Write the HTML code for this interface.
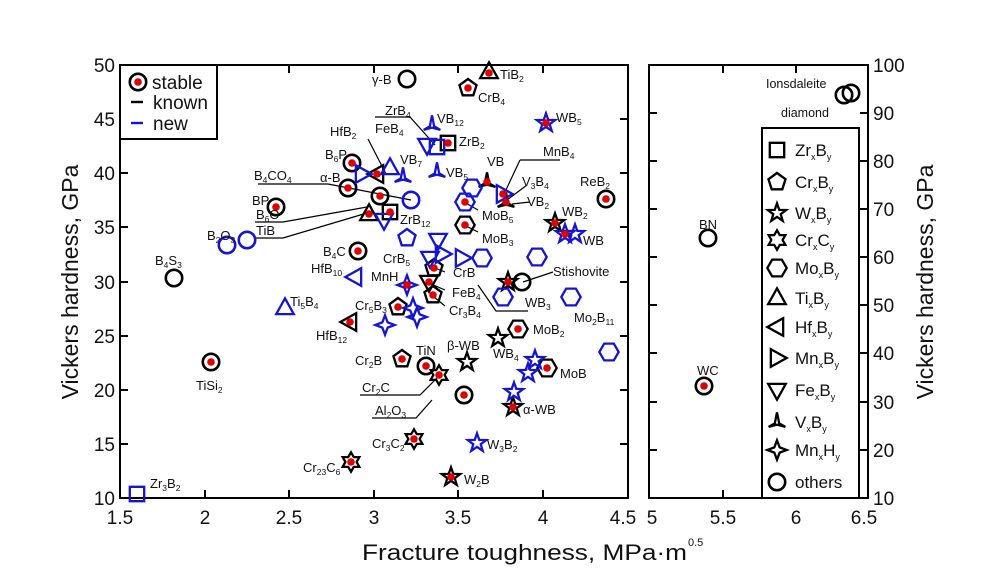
<!DOCTYPE html>
<html><head><meta charset="utf-8"><style>
html,body{margin:0;padding:0;background:#fff}
svg{display:block;font-family:"Liberation Sans",Arial,sans-serif}
.b{stroke:#000;fill:none;stroke-width:2.6}
.u{stroke:#1515d0;fill:none;stroke-width:2.6}
.t{font-size:13px;fill:#111}
.s{font-size:8.5px}
</style></head><body>
<svg width="998" height="587" viewBox="0 0 998 587" xmlns="http://www.w3.org/2000/svg">
<defs>
<path id="sq" transform="scale(.9)" d="M-8-8h16v16h-16z"/>
<path id="pe" transform="scale(.9)" d="M0-10L9.5-3.1L5.9 8.1L-5.9 8.1L-9.5-3.1Z"/>
<path id="st" transform="scale(.88)" d="M0-11L2.6-3.6L10.5-3.4L4.2 1.4L6.5 8.9L0 4.4L-6.5 8.9L-4.2 1.4L-10.5-3.4L-2.6-3.6Z"/>
<path id="hg" transform="scale(.88)" d="M0-11L3.2-5.5L9.5-5.5L6.4 0L9.5 5.5L3.2 5.5L0 11L-3.2 5.5L-9.5 5.5L-6.4 0L-9.5-5.5L-3.2-5.5Z"/>
<path id="hx" transform="scale(.88)" d="M11 0L5.5 9.5L-5.5 9.5L-11 0L-5.5-9.5L5.5-9.5Z"/>
<path id="tu" transform="scale(.88)" d="M0-11L10 7L-10 7Z"/>
<path id="tl" transform="scale(.88)" d="M-11 0L7-10L7 10Z"/>
<path id="tr" transform="scale(.88)" d="M11 0L-7-10L-7 10Z"/>
<path id="td" transform="scale(.88)" d="M0 11L10-7L-10-7Z"/>
<path id="vv" transform="scale(.88)" d="M0-11L2.5 1.5L9.5 5.5L0 3L-9.5 5.5L-2.5 1.5Z"/>
<path id="f4" transform="scale(.88)" d="M0-11L3-3L11 0L3 3L0 11L-3 3L-11 0L-3-3Z"/>
<circle id="ci" r="8.2"/>
<circle id="d" r="3.8" fill="#e00000" stroke="none"/>
</defs>

<rect x="120" y="65" width="508" height="433" fill="none" stroke="#000" stroke-width="2"/>
<g stroke="#000" stroke-width="2">
<path d="M205 498v-8M289 498v-8M374 498v-8M458 498v-8M543 498v-8M205 65v8M289 65v8M374 65v8M458 65v8M543 65v8"/>
<path d="M120 119h8M120 173h8M120 227h8M120 282h8M120 336h8M120 390h8M120 444h8M628 119h-8M628 173h-8M628 227h-8M628 282h-8M628 336h-8M628 390h-8M628 444h-8"/>
</g>
<rect x="649" y="65" width="219" height="433" fill="none" stroke="#000" stroke-width="2"/>
<g stroke="#000" stroke-width="2">
<path d="M723 498v-8M796 498v-8M723 65v8M796 65v8"/>
<path d="M868 113h-8M868 161h-8M868 209h-8M868 257h-8M868 305h-8M868 353h-8M868 402h-8M868 450h-8M649 113h8M649 161h8M649 209h8M649 257h8M649 305h8M649 353h8M649 402h8M649 450h8"/>
</g>

<g font-size="19" fill="#111" text-anchor="middle">
<text x="120" y="524">1.5</text><text x="205" y="524">2</text><text x="289" y="524">2.5</text><text x="374" y="524">3</text><text x="458" y="524">3.5</text><text x="543" y="524">4</text><text x="623" y="524">4.5</text>
<text x="652" y="524">5</text><text x="723" y="524">5.5</text><text x="796" y="524">6</text><text x="864" y="524">6.5</text>
</g>
<g font-size="19" fill="#111" text-anchor="end">
<text x="115" y="72">50</text><text x="115" y="126">45</text><text x="115" y="180">40</text><text x="115" y="234">35</text><text x="115" y="289">30</text><text x="115" y="343">25</text><text x="115" y="397">20</text><text x="115" y="451">15</text><text x="115" y="505">10</text>
</g>
<g font-size="19" fill="#111">
<text x="873" y="72">100</text><text x="873" y="120">90</text><text x="873" y="168">80</text><text x="873" y="216">70</text><text x="873" y="264">60</text><text x="873" y="312">50</text><text x="873" y="360">40</text><text x="873" y="409">30</text><text x="873" y="457">20</text><text x="873" y="505">10</text>
</g>
<text x="362" y="560" font-size="22" fill="#111" textLength="325" lengthAdjust="spacingAndGlyphs">Fracture toughness, MPa·m</text>
<text x="688" y="546" font-size="11" fill="#111">0.5</text>
<text transform="translate(78,282) rotate(-90)" font-size="23" fill="#111" text-anchor="middle">Vickers hardness, GPa</text>
<text transform="translate(933,282) rotate(-90)" font-size="23" fill="#111" text-anchor="middle">Vickers hardness, GPa</text>

<rect x="120" y="65" width="97" height="74" fill="#fff" stroke="#000" stroke-width="2"/>
<use href="#ci" x="138" y="82" class="b"/><use href="#d" x="138" y="82"/>
<text x="152" y="89" font-size="19" fill="#111">stable</text>
<path d="M131 102h12" stroke="#000" stroke-width="2.4"/><text x="153" y="109" font-size="19" fill="#111">known</text>
<path d="M131 123h12" stroke="#1515d0" stroke-width="2.4"/><text x="153" y="130" font-size="19" fill="#111">new</text>

<rect x="762" y="128" width="97" height="370" fill="#fff" stroke="#000" stroke-width="2"/>
<g class="b">
<use href="#sq" x="777" y="150"/><use href="#pe" x="777" y="182"/><use href="#st" x="777" y="213"/><use href="#hg" x="777" y="240"/><use href="#hx" x="777" y="268"/><use href="#tu" x="777" y="298"/><use href="#tl" x="777" y="327"/><use href="#tr" x="777" y="358"/><use href="#td" x="777" y="390"/><use href="#vv" x="777" y="422"/><use href="#f4" x="777" y="450"/><use href="#ci" x="777" y="482"/>
</g>
<g font-size="17" fill="#111">
<text x="795" y="156">Zr<tspan font-size="9" dy="4">x</tspan><tspan dy="-4">B</tspan><tspan font-size="9" dy="4">y</tspan></text>
<text x="795" y="188">Cr<tspan font-size="9" dy="4">x</tspan><tspan dy="-4">B</tspan><tspan font-size="9" dy="4">y</tspan></text>
<text x="795" y="219">W<tspan font-size="9" dy="4">x</tspan><tspan dy="-4">B</tspan><tspan font-size="9" dy="4">y</tspan></text>
<text x="795" y="246">Cr<tspan font-size="9" dy="4">x</tspan><tspan dy="-4">C</tspan><tspan font-size="9" dy="4">y</tspan></text>
<text x="795" y="274">Mo<tspan font-size="9" dy="4">x</tspan><tspan dy="-4">B</tspan><tspan font-size="9" dy="4">y</tspan></text>
<text x="795" y="304">Ti<tspan font-size="9" dy="4">x</tspan><tspan dy="-4">B</tspan><tspan font-size="9" dy="4">y</tspan></text>
<text x="795" y="333">Hf<tspan font-size="9" dy="4">x</tspan><tspan dy="-4">B</tspan><tspan font-size="9" dy="4">y</tspan></text>
<text x="795" y="364">Mn<tspan font-size="9" dy="4">x</tspan><tspan dy="-4">B</tspan><tspan font-size="9" dy="4">y</tspan></text>
<text x="795" y="396">Fe<tspan font-size="9" dy="4">x</tspan><tspan dy="-4">B</tspan><tspan font-size="9" dy="4">y</tspan></text>
<text x="795" y="428">V<tspan font-size="9" dy="4">x</tspan><tspan dy="-4">B</tspan><tspan font-size="9" dy="4">y</tspan></text>
<text x="795" y="456">Mn<tspan font-size="9" dy="4">x</tspan><tspan dy="-4">H</tspan><tspan font-size="9" dy="4">y</tspan></text>
<text x="795" y="488">others</text>
</g>

<g stroke="#000" stroke-width="1.2" fill="none">
<path d="M375 117h35l25 28"/><path d="M368 139l18 35"/><path d="M258 184h70l83 16"/>
<path d="M255 222h28l84-15"/><path d="M255 238h28l84-25"/>
<path d="M520 160h40"/><path d="M520 160l-15 32"/><path d="M527 185l-20 15"/>
<path d="M530 202l-18 2"/><path d="M478 210l-14-8"/><path d="M478 232l-14-7"/>
<path d="M445 272l-10-4"/><path d="M445 290l-14-6"/><path d="M445 306l-11-9"/>
<path d="M553 272l-30 10"/><path d="M528 311h-32l-18-26"/>
<path d="M360 395h60l20-20"/><path d="M372 418h44l16-18"/>
</g>

<g class="b">
<use href="#ci" x="407" y="79"/><use href="#tu" x="489" y="72"/><use href="#pe" x="468" y="88"/>
<use href="#sq" x="448" y="143"/><use href="#tl" x="377" y="174"/><use href="#ci" x="352" y="163"/>
<use href="#ci" x="348" y="188"/><use href="#ci" x="380" y="196"/><use href="#ci" x="276" y="207"/>
<use href="#tu" x="369" y="214"/><use href="#sq" x="390" y="212"/><use href="#ci" x="174" y="278"/>
<use href="#ci" x="358" y="251"/><use href="#pe" x="434" y="268"/><use href="#hx" x="465" y="225"/>
<use href="#vv" x="487" y="182"/><use href="#vv" x="506" y="202"/><use href="#ci" x="606" y="199"/>
<use href="#st" x="555" y="223"/><use href="#ci" x="522" y="282"/><use href="#st" x="508" y="282"/>
<use href="#hx" x="518" y="329"/><use href="#st" x="498" y="338"/><use href="#hx" x="547" y="368"/>
<use href="#st" x="513" y="407"/><use href="#st" x="451" y="477"/><use href="#hg" x="414" y="439"/>
<use href="#hg" x="351" y="462"/><use href="#st" x="467" y="362"/><use href="#hg" x="439" y="375"/>
<use href="#ci" x="426" y="366"/><use href="#pe" x="402" y="359"/><use href="#ci" x="464" y="395"/>
<use href="#pe" x="398" y="307"/><use href="#tl" x="350" y="322"/><use href="#td" x="429" y="282"/>
<use href="#pe" x="433" y="295"/><use href="#ci" x="211" y="362"/>
<use href="#ci" x="844" y="95"/><use href="#ci" x="851" y="93"/><use href="#ci" x="708" y="238"/><use href="#ci" x="704" y="386"/>
</g>
<g class="u">
<use href="#st" x="546" y="123"/><use href="#vv" x="432" y="125"/><use href="#td" x="427" y="145"/>
<use href="#sq" x="437" y="147"/><use href="#tr" x="362" y="174"/><use href="#tu" x="390" y="168"/>
<use href="#vv" x="403" y="177"/><use href="#vv" x="437" y="172"/><use href="#ci" x="411" y="200"/>
<use href="#td" x="384" y="220"/><use href="#ci" x="227" y="245"/><use href="#ci" x="247" y="240"/>
<use href="#tl" x="355" y="277"/><use href="#pe" x="407" y="238"/><use href="#td" x="438" y="240"/>
<use href="#tr" x="442" y="254"/><use href="#tr" x="462" y="258"/><use href="#td" x="430" y="258"/>
<use href="#hx" x="482" y="258"/><use href="#hx" x="537" y="257"/><use href="#f4" x="407" y="285"/>
<use href="#hx" x="472" y="188"/><use href="#hx" x="465" y="202"/><use href="#tr" x="503" y="194"/>
<use href="#st" x="565" y="234"/><use href="#st" x="575" y="234"/>
<use href="#hx" x="503" y="297"/><use href="#hx" x="571" y="297"/><use href="#hx" x="609" y="352"/>
<use href="#st" x="535" y="360"/><use href="#st" x="528" y="373"/><use href="#st" x="514" y="392"/>
<use href="#st" x="477" y="443"/><use href="#tu" x="285" y="308"/>
<use href="#f4" x="385" y="325"/><use href="#f4" x="413" y="308"/><use href="#f4" x="417" y="317"/>
<use href="#sq" x="137" y="494"/>
</g>
<g>
<use href="#d" x="489" y="73"/><use href="#d" x="468" y="88"/><use href="#d" x="448" y="143"/><use href="#d" x="377" y="174"/>
<use href="#d" x="352" y="163"/><use href="#d" x="348" y="188"/><use href="#d" x="380" y="196"/><use href="#d" x="276" y="207"/>
<use href="#d" x="369" y="214"/><use href="#d" x="390" y="212"/><use href="#d" x="358" y="251"/><use href="#d" x="434" y="268"/>
<use href="#d" x="465" y="225"/><use href="#d" x="487" y="182"/><use href="#d" x="506" y="202"/><use href="#d" x="606" y="199"/>
<use href="#d" x="555" y="223"/><use href="#d" x="508" y="282"/><use href="#d" x="518" y="329"/><use href="#d" x="547" y="368"/>
<use href="#d" x="513" y="407"/><use href="#d" x="451" y="477"/><use href="#d" x="414" y="439"/><use href="#d" x="351" y="462"/>
<use href="#d" x="439" y="375"/><use href="#d" x="426" y="366"/><use href="#d" x="402" y="359"/><use href="#d" x="464" y="395"/>
<use href="#d" x="398" y="307"/><use href="#d" x="350" y="322"/><use href="#d" x="429" y="282"/><use href="#d" x="433" y="295"/>
<use href="#d" x="211" y="362"/><use href="#d" x="546" y="123"/><use href="#d" x="465" y="202"/><use href="#d" x="503" y="194"/>
<use href="#d" x="565" y="234"/><use href="#d" x="407" y="285"/><use href="#d" x="704" y="386"/>
</g>

<g class="t">
<text x="372" y="84">γ-B</text>
<text x="500" y="79">TiB<tspan class="s" dy="3">2</tspan></text>
<text x="478" y="102">CrB<tspan class="s" dy="3">4</tspan></text>
<text x="556" y="122">WB<tspan class="s" dy="3">5</tspan></text>
<text x="385" y="115">ZrB<tspan class="s" dy="3">4</tspan></text>
<text x="437" y="123">VB<tspan class="s" dy="3">12</tspan></text>
<text x="375" y="133">FeB<tspan class="s" dy="3">4</tspan></text>
<text x="459" y="146">ZrB<tspan class="s" dy="3">2</tspan></text>
<text x="330" y="136">HfB<tspan class="s" dy="3">2</tspan></text>
<text x="325" y="159">B<tspan class="s" dy="3">6</tspan><tspan dy="-3">P</tspan></text>
<text x="400" y="164">VB<tspan class="s" dy="3">7</tspan></text>
<text x="446" y="177">VB<tspan class="s" dy="3">5</tspan></text>
<text x="320" y="182">α-B</text>
<text x="254" y="180">B<tspan class="s" dy="3">4</tspan><tspan dy="-3">CO</tspan><tspan class="s" dy="3">4</tspan></text>
<text x="252" y="205">BP</text>
<text x="256" y="219">B<tspan class="s" dy="3">6</tspan><tspan dy="-3">O</tspan></text>
<text x="256" y="235">TiB</text>
<text x="400" y="224">ZrB<tspan class="s" dy="3">12</tspan></text>
<text x="207" y="240">B<tspan class="s" dy="3">2</tspan><tspan dy="-3">O</tspan><tspan class="s" dy="3">3</tspan></text>
<text x="155" y="265">B<tspan class="s" dy="3">4</tspan><tspan dy="-3">S</tspan><tspan class="s" dy="3">3</tspan></text>
<text x="323" y="256">B<tspan class="s" dy="3">4</tspan><tspan dy="-3">C</tspan></text>
<text x="311" y="273">HfB<tspan class="s" dy="3">10</tspan></text>
<text x="383" y="263">CrB<tspan class="s" dy="3">5</tspan></text>
<text x="371" y="281">MnH</text>
<text x="453" y="277">CrB</text>
<text x="487" y="166">VB</text>
<text x="543" y="156">MnB<tspan class="s" dy="3">4</tspan></text>
<text x="522" y="186">V<tspan class="s" dy="3">3</tspan><tspan dy="-3">B</tspan><tspan class="s" dy="3">4</tspan></text>
<text x="527" y="206">VB<tspan class="s" dy="3">2</tspan></text>
<text x="482" y="220">MoB<tspan class="s" dy="3">5</tspan></text>
<text x="482" y="243">MoB<tspan class="s" dy="3">3</tspan></text>
<text x="580" y="186">ReB<tspan class="s" dy="3">2</tspan></text>
<text x="562" y="216">WB<tspan class="s" dy="3">2</tspan></text>
<text x="583" y="245">WB</text>
<text x="553" y="276">Stishovite</text>
<text x="525" y="307">WB<tspan class="s" dy="3">3</tspan></text>
<text x="574" y="322">Mo<tspan class="s" dy="3">2</tspan><tspan dy="-3">B</tspan><tspan class="s" dy="3">11</tspan></text>
<text x="533" y="334">MoB<tspan class="s" dy="3">2</tspan></text>
<text x="493" y="358">WB<tspan class="s" dy="3">4</tspan></text>
<text x="560" y="378">MoB</text>
<text x="523" y="414">α-WB</text>
<text x="487" y="449">W<tspan class="s" dy="3">3</tspan><tspan dy="-3">B</tspan><tspan class="s" dy="3">2</tspan></text>
<text x="464" y="484">W<tspan class="s" dy="3">2</tspan><tspan dy="-3">B</tspan></text>
<text x="372" y="448">Cr<tspan class="s" dy="3">3</tspan><tspan dy="-3">C</tspan><tspan class="s" dy="3">2</tspan></text>
<text x="303" y="472">Cr<tspan class="s" dy="3">23</tspan><tspan dy="-3">C</tspan><tspan class="s" dy="3">6</tspan></text>
<text x="447" y="350">β-WB</text>
<text x="362" y="392">Cr<tspan class="s" dy="3">2</tspan><tspan dy="-3">C</tspan></text>
<text x="416" y="355">TiN</text>
<text x="355" y="365">Cr<tspan class="s" dy="3">2</tspan><tspan dy="-3">B</tspan></text>
<text x="375" y="415">Al<tspan class="s" dy="3">2</tspan><tspan dy="-3">O</tspan><tspan class="s" dy="3">3</tspan></text>
<text x="355" y="310">Cr<tspan class="s" dy="3">5</tspan><tspan dy="-3">B</tspan><tspan class="s" dy="3">3</tspan></text>
<text x="316" y="340">HfB<tspan class="s" dy="3">12</tspan></text>
<text x="290" y="306">Ti<tspan class="s" dy="3">5</tspan><tspan dy="-3">B</tspan><tspan class="s" dy="3">4</tspan></text>
<text x="452" y="297">FeB<tspan class="s" dy="3">4</tspan></text>
<text x="449" y="315">Cr<tspan class="s" dy="3">3</tspan><tspan dy="-3">B</tspan><tspan class="s" dy="3">4</tspan></text>
<text x="196" y="390">TiSi<tspan class="s" dy="3">2</tspan></text>
<text x="150" y="488">Zr<tspan class="s" dy="3">3</tspan><tspan dy="-3">B</tspan><tspan class="s" dy="3">2</tspan></text>
<text x="766" y="88" font-size="12.5">Ionsdaleite</text>
<text x="781" y="117" font-size="12.5">diamond</text>
<text x="699" y="229" font-size="13">BN</text>
<text x="697" y="375" font-size="13">WC</text>
</g>
</svg>
</body></html>
